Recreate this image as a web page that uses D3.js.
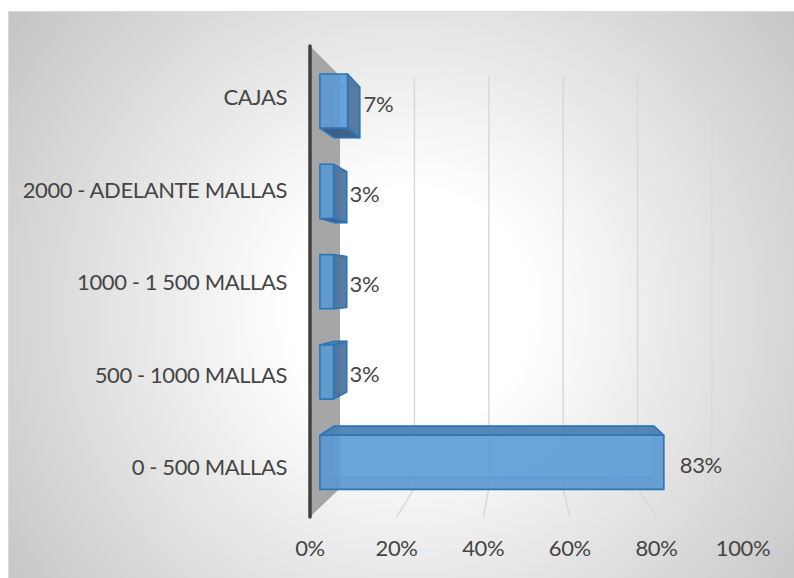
<!DOCTYPE html>
<html>
<head>
<meta charset="utf-8">
<script src="https://cdn.jsdelivr.net/npm/d3@7/dist/d3.min.js"></script>
<style>
  html, body { margin: 0; padding: 0; background: #ffffff; }
  svg { display: block; }
  text { font-family: Lato, "Open Sans", "Noto Sans", sans-serif; fill: #454545; letter-spacing: -0.4px; }
</style>
</head>
<body>
<div id="chart"></div>
<script>
// ---- data ----
const categories = ["CAJAS", "2000 - ADELANTE MALLAS", "1000 - 1 500 MALLAS", "500 - 1000 MALLAS", "0 - 500 MALLAS"];
const values = [0.067, 0.033, 0.033, 0.033, 0.833];
const tickValues = [0, 0.2, 0.4, 0.6, 0.8, 1.0];

// ---- layout ----
const W = 794, H = 578;
const svg = d3.select("#chart").append("svg").attr("width", W).attr("height", H);

const defs = svg.append("defs");
const grad = defs.append("radialGradient").attr("id", "bg")
  .attr("gradientUnits", "userSpaceOnUse")
  .attr("cx", 410).attr("cy", 310).attr("r", 500);
grad.append("stop").attr("offset", 0).attr("stop-color", "#ffffff");
grad.append("stop").attr("offset", 0.24).attr("stop-color", "#ffffff");
grad.append("stop").attr("offset", 1).attr("stop-color", "#c4c4c4");

// chart area
svg.append("rect").attr("x", 8.5).attr("y", 11.5).attr("width", W - 8).attr("height", H - 11)
  .attr("fill", "url(#bg)").attr("stroke", "#d9d9d9").attr("stroke-width", 1);

// front-plane scales
const x = d3.scaleLinear().domain([0, 1]).range([310, 743]);
const y = d3.scaleBand().domain(categories).range([46, 517]).paddingInner(0.4).paddingOuter(0.2);

// perspective projection
const VX = 523, VY = 286, KX = 0.141, KY = 0.125;
const P = (xf, yf, z) => [VX + (xf - VX) * (1 - z * KX), VY + (yf - VY) * (1 - z * KY)];
const line = d3.line();

const yTop = 46, yBot = 517;

// side wall
svg.append("path")
  .attr("d", line([P(x(0), yTop, 0), P(x(0), yTop, 1), P(x(0), yBot, 1), P(x(0), yBot, 0)]) + "Z")
  .attr("fill", "#a6a6a6");

// gridlines (back wall + floor)
const grid = svg.append("g").attr("fill", "none").attr("stroke", "#d9d9d9").attr("stroke-width", 1.5);
tickValues.filter(t => t > 0).forEach(t => {
  grid.append("path").attr("d", line([P(x(t), yTop, 1), P(x(t), yBot, 1), P(x(t), yBot, 0)]));
});

// axis line
svg.append("line").attr("x1", x(0)).attr("x2", x(0)).attr("y1", yTop).attr("y2", yBot)
  .attr("stroke", "#404040").attr("stroke-width", 3.5).attr("stroke-linecap", "round");

// bars
const Z1 = 0.33, Z2 = 0.80;
const faceColor = { front: "#5b9bd5", back: "#5b9bd5", top: "#4a7db3", bottom: "#375d86", right: "#4a729b", left: "#4a729b" };
const faceOpacity = { front: 0.85, back: 0.5, top: 0.9, bottom: 0.95, right: 0.9, left: 0.6 };

const bars = svg.append("g");
categories.forEach((c, i) => {
  const x0 = x(0), x1 = x(values[i]);
  const y0 = y(c), y1 = y(c) + y.bandwidth();
  const v = (xx, yy, zz) => P(xx, yy, zz);
  const faces = [
    { k: "back",   pts: [v(x0,y0,Z2), v(x0,y1,Z2), v(x1,y1,Z2), v(x1,y0,Z2)] },
    { k: "front",  pts: [v(x0,y0,Z1), v(x1,y0,Z1), v(x1,y1,Z1), v(x0,y1,Z1)] },
    { k: "top",    pts: [v(x0,y0,Z1), v(x0,y0,Z2), v(x1,y0,Z2), v(x1,y0,Z1)] },
    { k: "bottom", pts: [v(x0,y1,Z1), v(x1,y1,Z1), v(x1,y1,Z2), v(x0,y1,Z2)] },
    { k: "right",  pts: [v(x1,y0,Z1), v(x1,y0,Z2), v(x1,y1,Z2), v(x1,y1,Z1)] },
    { k: "left",   pts: [v(x0,y0,Z1), v(x0,y1,Z1), v(x0,y1,Z2), v(x0,y0,Z2)] }
  ];
  const area = pts => {
    let s = 0;
    for (let j = 0; j < pts.length; j++) { const a = pts[j], b = pts[(j + 1) % pts.length]; s += a[0] * b[1] - b[0] * a[1]; }
    return s / 2;
  };
  const ref = area(faces[1].pts);
  faces.forEach(f => { f.vis = Math.sign(area(f.pts)) === Math.sign(ref) && Math.abs(area(f.pts)) > 0.5; });
  const order = faces.filter(f => !f.vis).concat(faces.filter(f => f.vis && f.k !== "front"), faces.filter(f => f.k === "front"));
  const g = bars.append("g");
  order.forEach(f => {
    g.append("path").attr("d", line(f.pts) + "Z")
      .attr("fill", faceColor[f.k])
      .attr("fill-opacity", f.vis ? faceOpacity[f.k] : 0.35)
      .attr("stroke", f.vis ? "#2e75b6" : "#5f9fd8")
      .attr("stroke-opacity", f.vis ? 1 : 0.6)
      .attr("stroke-width", f.vis ? 1.6 : 1)
      .attr("stroke-linejoin", "round");
  });
  const fr = v(x1, (y0 + y1) / 2, Z1);
  svg.append("text").attr("x", fr[0] + 16).attr("y", fr[1] + 2)
    .attr("dominant-baseline", "central").attr("font-size", 22)
    .text(d3.format(".0%")(values[i]));
});

// category labels
categories.forEach(c => {
  const p = P(x(0), y(c) + y.bandwidth() / 2, 0.15);
  svg.append("text").attr("x", 287).attr("y", p[1])
    .attr("text-anchor", "end").attr("dominant-baseline", "central").attr("font-size", 22)
    .text(c);
});

// value axis tick labels
tickValues.forEach(t => {
  svg.append("text").attr("x", x(t)).attr("y", yBot + 30)
    .attr("text-anchor", "middle").attr("dominant-baseline", "central").attr("font-size", 22)
    .text(d3.format(".0%")(t));
});
</script>
</body>
</html>
